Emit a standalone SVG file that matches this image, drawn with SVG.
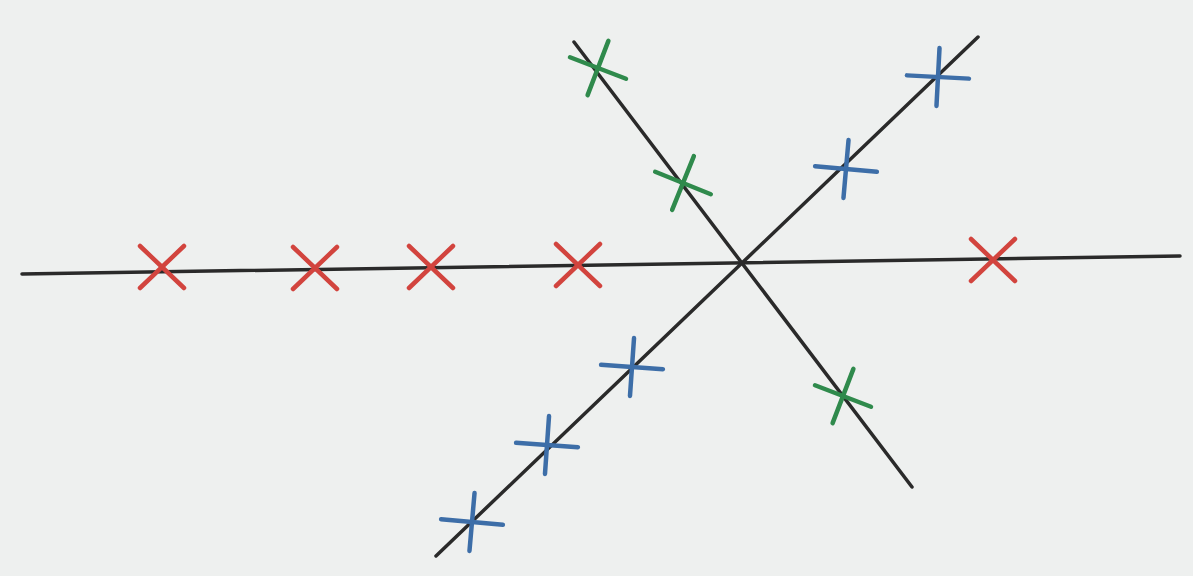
<svg xmlns="http://www.w3.org/2000/svg" width="1193" height="576" viewBox="0 0 1193 576">
<style>
.axis{stroke:#2a2a2a;stroke-width:3.5;stroke-linecap:round;fill:none}
.red{stroke:#d2443e;stroke-width:4.5;stroke-linecap:round;fill:none}
.green{stroke:#2f8a4c;stroke-width:4.5;stroke-linecap:round;fill:none}
.blue{stroke:#3d6ea8;stroke-width:4.5;stroke-linecap:round;fill:none}
</style>
<defs>
<g id="xmark"><line x1="-22" y1="-21" x2="22" y2="21"/><line x1="-22" y1="21" x2="22" y2="-21"/></g>
<g id="gmark"><line x1="-30" y1="0" x2="30" y2="0"/><line x1="0" y1="-29" x2="0" y2="29"/></g>
<g id="bmark"><line x1="-31" y1="0" x2="31" y2="0"/><line x1="0" y1="-29" x2="0" y2="29"/></g>
</defs>
<rect width="1193" height="576" fill="#eef0ef"/>
<g id="connectors">
<line class="axis" x1="22" y1="274" x2="1180" y2="256"/>
<line class="axis" x1="436" y1="556" x2="978" y2="37"/>
<line class="axis" x1="574" y1="42" x2="912" y2="487"/>
</g>
<g id="red1" class="red"><use href="#xmark" transform="translate(162,267)"/></g>
<g id="red2" class="red"><use href="#xmark" transform="translate(315,268)"/></g>
<g id="red3" class="red"><use href="#xmark" transform="translate(431,267)"/></g>
<g id="red4" class="red"><use href="#xmark" transform="translate(578,265)"/></g>
<g id="red5" class="red"><use href="#xmark" transform="translate(993,260)"/></g>
<g id="green1" class="green"><use href="#gmark" transform="translate(598,68) rotate(21)"/></g>
<g id="green2" class="green"><use href="#gmark" transform="translate(683,183) rotate(22)"/></g>
<g id="green3" class="green"><use href="#gmark" transform="translate(843,396) rotate(21)"/></g>
<g id="blue1" class="blue"><use href="#bmark" transform="translate(938,77) rotate(3)"/></g>
<g id="blue2" class="blue"><use href="#bmark" transform="translate(846,169) rotate(5)"/></g>
<g id="blue3" class="blue"><use href="#bmark" transform="translate(632,367) rotate(4)"/></g>
<g id="blue4" class="blue"><use href="#bmark" transform="translate(547,445) rotate(4)"/></g>
<g id="blue5" class="blue"><use href="#bmark" transform="translate(472,522) rotate(5)"/></g>
</svg>
